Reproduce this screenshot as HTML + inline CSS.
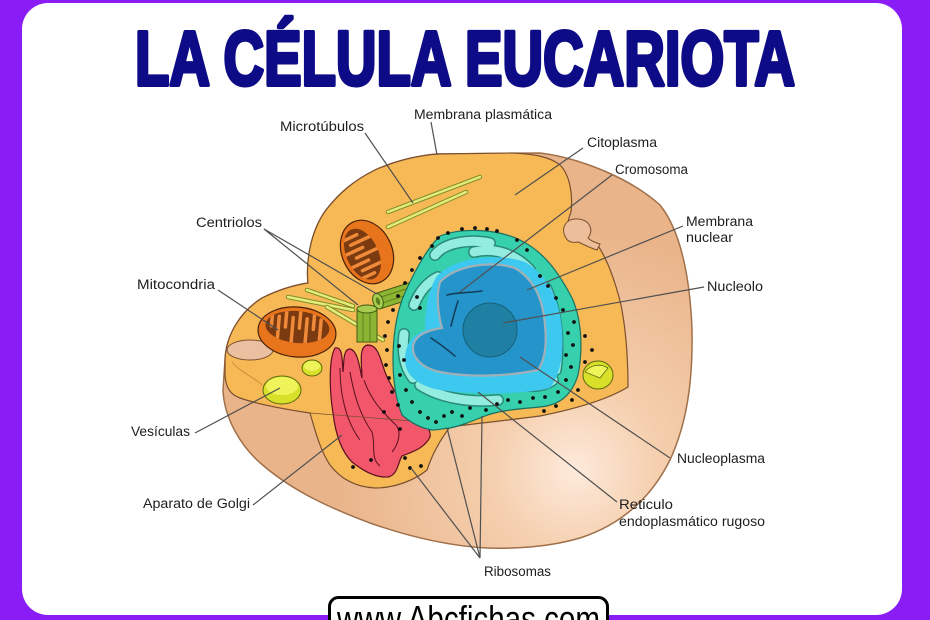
<!DOCTYPE html>
<html><head><meta charset="utf-8"><style>
html,body{margin:0;padding:0;background:#8a1cf6;}
body{width:930px;height:620px;overflow:hidden;}
svg{display:block;}
.lb{font-family:"Liberation Sans",sans-serif;font-size:13.5px;fill:#1e1e1e;}
.ln{stroke:#505050;stroke-width:1.2;fill:none;}
.mt1{stroke:#7f8f2a;stroke-width:4.5;stroke-linecap:round;}
.mt2{stroke:#e6ec7a;stroke-width:2.5;stroke-linecap:round;}
.cis1{stroke:#2a8a78;stroke-width:12;fill:none;stroke-linecap:round;}
.cis2{stroke:#92ece0;stroke-width:9;fill:none;stroke-linecap:round;}
</style></head><body>
<svg width="930" height="620" viewBox="0 0 930 620" xmlns="http://www.w3.org/2000/svg">
<defs>
<radialGradient id="pg" cx="575" cy="470" r="240" gradientUnits="userSpaceOnUse">
<stop offset="0" stop-color="#fdeadb"/><stop offset="0.35" stop-color="#f5cfae"/><stop offset="1" stop-color="#e9b48a"/>
</radialGradient>
<clipPath id="m1"><ellipse cx="-5" cy="0" rx="16" ry="27"/></clipPath>
<clipPath id="m2"><ellipse cx="0" cy="-5" rx="32" ry="16"/></clipPath>
</defs>
<rect x="0" y="0" width="930" height="620" fill="#8a1cf6"/>
<rect x="22" y="3" width="880" height="612" rx="26" fill="#ffffff"/>

<text x="135" y="85" font-family="Liberation Sans, sans-serif" font-weight="bold" font-size="77" fill="#0d0b86" stroke="#0d0b86" stroke-width="4" stroke-linejoin="round" textLength="660" lengthAdjust="spacingAndGlyphs">LA CÉLULA EUCARIOTA</text>

<!-- outer cell body -->
<path d="M225,360 C226,335 240,312 262,298 C278,290 295,285 308,283 C306,262 310,232 326,210 C340,192 355,180 375,170 C395,161 415,156 437,154 L540,153 C580,158 630,178 660,205 C680,230 690,275 692,330 C693,385 686,425 670,460 C650,500 620,525 580,538 C550,547 515,549 487,548 C450,546 410,537 370,523 C330,508 295,492 265,467 C240,447 224,417 223,390 Z" fill="url(#pg)" stroke="#a0704a" stroke-width="1.5"/>

<!-- cytoplasm -->
<path d="M225,360 C226,335 240,312 262,298 C278,290 295,285 308,283 C306,262 310,232 326,210 C340,192 355,180 375,170 C395,161 415,156 437,154 L513,153 C535,154 550,157 560,165 C570,175 573,195 571,212 C566,224 566,236 576,241 C583,244 589,239 596,243 C606,256 615,280 621,305 C626,330 628,360 628,387 C610,398 580,408 540,416 C510,420 480,423 450,427 C440,440 432,455 427,470 C415,480 395,488 375,488 C355,487 340,478 330,465 C320,450 315,430 310,413 C290,410 260,405 240,398 C232,395 226,390 225,375 Z" fill="#f7b955" stroke="#7a5030" stroke-width="1.2"/>

<!-- invagination top right -->
<path d="M566,238 C560,228 566,218 578,219 C590,220 594,230 588,238 C592,242 597,243 600,244 L597,250 C590,248 583,244 578,242 C573,243 568,242 566,238 Z" fill="#edbe9a" stroke="#7a5030" stroke-width="1"/>
<!-- left lobe pit -->
<ellipse cx="250" cy="350" rx="23" ry="10" fill="#ebc0a0" stroke="#7a5030" stroke-width="1"/>
<path d="M232,362 C240,372 255,378 262,385" stroke="#c8903a" stroke-width="1" fill="none"/>

<!-- microtubules -->
<line class="mt1" x1="388" y1="212" x2="480" y2="177"/><line class="mt2" x1="388" y1="212" x2="480" y2="177"/>
<line class="mt1" x1="388" y1="227" x2="466" y2="192"/><line class="mt2" x1="388" y1="227" x2="466" y2="192"/>
<line class="mt1" x1="288" y1="297" x2="353" y2="310"/><line class="mt2" x1="288" y1="297" x2="353" y2="310"/>
<line class="mt1" x1="307" y1="290" x2="353" y2="306"/><line class="mt2" x1="307" y1="290" x2="353" y2="306"/>
<line class="mt1" x1="327" y1="307" x2="383" y2="340"/><line class="mt2" x1="327" y1="307" x2="383" y2="340"/>

<!-- mitochondria upper -->
<g transform="translate(367,252) rotate(-25)">
<ellipse cx="0" cy="0" rx="25" ry="33" fill="#e8741c" stroke="#4a2208" stroke-width="1.2"/>
<ellipse cx="-5" cy="0" rx="16" ry="27" fill="#7b3a10"/>
<g clip-path="url(#m1)" stroke="#ee8a3a" stroke-width="3.5" stroke-linecap="round">
<line x1="-22" y1="-20" x2="-2" y2="-20"/><line x1="-12" y1="-13" x2="12" y2="-13"/>
<line x1="-22" y1="-6" x2="-2" y2="-6"/><line x1="-12" y1="1" x2="12" y2="1"/>
<line x1="-22" y1="8" x2="-2" y2="8"/><line x1="-12" y1="15" x2="12" y2="15"/>
<line x1="-22" y1="22" x2="-2" y2="22"/>
</g>
</g>
<!-- mitochondria lower -->
<g transform="translate(297,332) rotate(5)">
<ellipse cx="0" cy="0" rx="39" ry="25" fill="#e8741c" stroke="#4a2208" stroke-width="1.2"/>
<ellipse cx="0" cy="-5" rx="32" ry="16" fill="#7b3a10"/>
<g clip-path="url(#m2)" stroke="#ee8a3a" stroke-width="3.5" stroke-linecap="round">
<line x1="-26" y1="-22" x2="-26" y2="-4"/><line x1="-19" y1="-14" x2="-19" y2="12"/>
<line x1="-12" y1="-22" x2="-12" y2="-4"/><line x1="-5" y1="-14" x2="-5" y2="12"/>
<line x1="2" y1="-22" x2="2" y2="-4"/><line x1="9" y1="-14" x2="9" y2="12"/>
<line x1="16" y1="-22" x2="16" y2="-4"/><line x1="23" y1="-14" x2="23" y2="12"/>
</g>
</g>

<!-- centrioles -->
<g transform="translate(397,295) rotate(-18)">
<rect x="-20" y="-8" width="40" height="16" fill="#8db534" stroke="#3e5a10" stroke-width="1"/>
<line x1="-18" y1="-3" x2="20" y2="-3" stroke="#5c7f1c"/><line x1="-18" y1="3" x2="20" y2="3" stroke="#5c7f1c"/>
<ellipse cx="-20" cy="0" rx="5" ry="8" fill="#a8cc50" stroke="#3e5a10"/>
<ellipse cx="-20" cy="0" rx="2" ry="4" fill="#5c7f1c"/>
</g>
<g transform="translate(367,325)">
<rect x="-10" y="-16" width="20" height="33" fill="#8db534" stroke="#3e5a10" stroke-width="1"/>
<line x1="-4" y1="-14" x2="-4" y2="17" stroke="#5c7f1c"/><line x1="3" y1="-14" x2="3" y2="17" stroke="#5c7f1c"/>
<ellipse cx="0" cy="-16" rx="10" ry="4" fill="#a8cc50" stroke="#3e5a10"/>
</g>

<!-- vesicles -->
<ellipse cx="282" cy="390" rx="19" ry="14" fill="#d8e02a" stroke="#5a6a10" stroke-width="1"/>
<ellipse cx="282" cy="386" rx="16" ry="9" fill="#eef45a"/>
<ellipse cx="312" cy="368" rx="10" ry="8" fill="#d8e02a" stroke="#5a6a10" stroke-width="1"/>
<ellipse cx="312" cy="366" rx="8" ry="5" fill="#eef45a"/>
<ellipse cx="598" cy="375" rx="15" ry="14" fill="#d8e02a" stroke="#5a6a10" stroke-width="1"/>
<path d="M585,372 C590,365 600,363 608,368 L600,378 Z" fill="#eef45a" stroke="#5a6a10" stroke-width="0.8"/>

<!-- golgi -->
<path d="M335,348 C328,360 330,395 333,413 C335,430 340,450 352,462 C362,470 375,478 388,477 C398,475 398,462 402,456 C412,452 425,448 430,437 C432,428 420,418 410,410 C398,398 390,385 385,372 C380,358 378,345 368,345 C358,346 362,365 362,378 C360,370 358,350 350,349 C343,349 344,362 343,372 C342,360 343,346 335,348 Z" fill="#f2566b" stroke="#5a1020" stroke-width="1.2"/>
<path d="M340,368 C340,392 345,420 360,440 M350,372 C354,395 360,415 372,432 C376,446 370,458 380,466 M364,380 C370,398 380,410 396,425 C402,432 398,445 392,452" stroke="#5a1020" stroke-width="1" fill="none"/>
<line x1="310" y1="413" x2="450" y2="424" stroke="#7a5030" stroke-width="0.8"/>

<!-- ER teal -->
<path d="M440,236 C460,228 495,228 520,240 C545,252 560,275 572,298 C582,320 583,350 578,375 C572,395 560,405 540,407 C520,409 500,410 485,416 C470,422 460,426 450,428 C445,428 440,430 432,430 C420,428 410,422 402,415 C396,400 393,380 393,360 C393,340 395,320 402,300 C410,280 425,250 440,236 Z" fill="#36d0ad" stroke="#1c6f60" stroke-width="1.2"/>
<!-- cisternae -->
<g>
<path class="cis1" d="M435,255 C445,242 470,239 490,243"/>
<path class="cis1" d="M474,252 C494,247 515,254 530,270"/>
<path class="cis1" d="M546,288 C556,308 560,340 556,370"/>
<path class="cis1" d="M520,384 C532,388 545,386 553,380"/>
<path class="cis1" d="M420,385 C440,398 470,403 498,400"/>
<path class="cis1" d="M404,334 C402,352 404,366 413,378"/>
<path class="cis1" d="M414,305 C420,290 428,282 438,277"/>
<path class="cis2" d="M435,255 C445,242 470,239 490,243"/>
<path class="cis2" d="M474,252 C494,247 515,254 530,270"/>
<path class="cis2" d="M546,288 C556,308 560,340 556,370"/>
<path class="cis2" d="M520,384 C532,388 545,386 553,380"/>
<path class="cis2" d="M420,385 C440,398 470,403 498,400"/>
<path class="cis2" d="M404,334 C402,352 404,366 413,378"/>
<path class="cis2" d="M414,305 C420,290 428,282 438,277"/>
</g>
<!-- nucleus -->
<path d="M437,276 C455,258 495,252 525,262 C548,275 560,300 562,330 C564,355 560,375 550,388 C520,395 470,395 440,390 C418,386 405,375 405,360 C405,345 412,335 425,330 C425,310 428,290 437,276 Z" fill="#3dc8f0"/>
<path d="M440,282 C455,266 490,260 515,268 C535,280 543,300 545,325 C547,345 545,360 538,370 C510,376 470,378 440,372 C422,368 412,358 413,346 C415,335 428,330 442,328 C438,315 436,295 440,282 Z" fill="#2594cb" stroke="#9fb0b8" stroke-width="2.2"/>
<circle cx="490" cy="330" r="27" fill="#1f80a3" stroke="#17607a" stroke-width="1"/>
<g stroke="#12405a" stroke-width="1.6" stroke-linecap="round">
<path d="M447,295 C458,292 470,293 482,291"/>
<path d="M458,301 C455,310 453,318 451,326"/>
<path d="M431,338 C440,344 448,350 455,356"/>
</g>

<!-- ribosome dots -->
<g fill="#111">
<circle cx="432" cy="246" r="1.9"/><circle cx="438" cy="238" r="1.9"/><circle cx="448" cy="233" r="1.9"/><circle cx="462" cy="229" r="1.9"/><circle cx="475" cy="228" r="1.9"/><circle cx="487" cy="229" r="1.9"/><circle cx="497" cy="231" r="1.9"/><circle cx="517" cy="240" r="1.9"/><circle cx="527" cy="250" r="1.9"/><circle cx="420" cy="258" r="1.9"/>
<circle cx="412" cy="270" r="1.9"/><circle cx="405" cy="283" r="1.9"/><circle cx="398" cy="296" r="1.9"/><circle cx="393" cy="310" r="1.9"/><circle cx="388" cy="322" r="1.9"/><circle cx="385" cy="336" r="1.9"/><circle cx="387" cy="350" r="1.9"/><circle cx="386" cy="365" r="1.9"/><circle cx="389" cy="378" r="1.9"/><circle cx="392" cy="392" r="1.9"/><circle cx="398" cy="405" r="1.9"/>
<circle cx="417" cy="297" r="1.9"/><circle cx="420" cy="308" r="1.9"/>
<circle cx="399" cy="346" r="1.9"/><circle cx="404" cy="360" r="1.9"/><circle cx="400" cy="375" r="1.9"/><circle cx="406" cy="390" r="1.9"/><circle cx="412" cy="402" r="1.9"/><circle cx="420" cy="412" r="1.9"/><circle cx="428" cy="418" r="1.9"/><circle cx="436" cy="422" r="1.9"/><circle cx="444" cy="416" r="1.9"/><circle cx="452" cy="412" r="1.9"/><circle cx="462" cy="416" r="1.9"/><circle cx="470" cy="408" r="1.9"/><circle cx="486" cy="410" r="1.9"/><circle cx="497" cy="404" r="1.9"/><circle cx="508" cy="400" r="1.9"/><circle cx="520" cy="402" r="1.9"/><circle cx="533" cy="398" r="1.9"/><circle cx="545" cy="397" r="1.9"/><circle cx="558" cy="392" r="1.9"/><circle cx="566" cy="380" r="1.9"/><circle cx="571" cy="367" r="1.9"/><circle cx="566" cy="355" r="1.9"/><circle cx="573" cy="345" r="1.9"/><circle cx="568" cy="333" r="1.9"/><circle cx="574" cy="322" r="1.9"/><circle cx="563" cy="310" r="1.9"/><circle cx="556" cy="298" r="1.9"/><circle cx="548" cy="286" r="1.9"/><circle cx="540" cy="276" r="1.9"/>
<circle cx="585" cy="336" r="1.9"/><circle cx="592" cy="350" r="1.9"/><circle cx="585" cy="362" r="1.9"/><circle cx="578" cy="390" r="1.9"/><circle cx="572" cy="400" r="1.9"/><circle cx="556" cy="406" r="1.9"/><circle cx="544" cy="411" r="1.9"/>
<circle cx="353" cy="467" r="1.9"/><circle cx="405" cy="458" r="1.9"/><circle cx="410" cy="468" r="1.9"/><circle cx="421" cy="466" r="1.9"/><circle cx="384" cy="412" r="1.9"/><circle cx="400" cy="429" r="1.9"/><circle cx="371" cy="460" r="1.9"/>
</g>

<!-- leader lines -->
<g class="ln">
<line x1="431" y1="122" x2="437" y2="155"/>
<line x1="365" y1="133" x2="413" y2="203"/>
<line x1="583" y1="148" x2="515" y2="195"/>
<line x1="612" y1="175" x2="460" y2="292"/>
<line x1="683" y1="226" x2="527" y2="290"/>
<line x1="704" y1="287" x2="503" y2="323"/>
<line x1="264" y1="229" x2="377" y2="294"/>
<line x1="264" y1="229" x2="358" y2="305"/>
<line x1="218" y1="290" x2="278" y2="330"/>
<line x1="195" y1="433" x2="280" y2="388"/>
<line x1="253" y1="505" x2="342" y2="435"/>
<line x1="670" y1="458" x2="520" y2="357"/>
<line x1="617" y1="502" x2="478" y2="392"/>
<line x1="480" y1="558" x2="447" y2="428"/>
<line x1="480" y1="558" x2="482" y2="416"/>
<line x1="480" y1="558" x2="411" y2="468"/>
</g>

<!-- labels -->
<text class="lb" x="414" y="119" textLength="138" lengthAdjust="spacingAndGlyphs">Membrana plasmática</text>
<text class="lb" x="280" y="131" textLength="84" lengthAdjust="spacingAndGlyphs">Microtúbulos</text>
<text class="lb" x="587" y="147" textLength="70" lengthAdjust="spacingAndGlyphs">Citoplasma</text>
<text class="lb" x="615" y="174" textLength="73" lengthAdjust="spacingAndGlyphs">Cromosoma</text>
<text class="lb" x="686" y="226" textLength="67" lengthAdjust="spacingAndGlyphs">Membrana</text>
<text class="lb" x="686" y="242" textLength="47" lengthAdjust="spacingAndGlyphs">nuclear</text>
<text class="lb" x="707" y="291" textLength="56" lengthAdjust="spacingAndGlyphs">Nucleolo</text>
<text class="lb" x="196" y="227" textLength="66" lengthAdjust="spacingAndGlyphs">Centriolos</text>
<text class="lb" x="137" y="289" textLength="78" lengthAdjust="spacingAndGlyphs">Mitocondria</text>
<text class="lb" x="131" y="436" textLength="59" lengthAdjust="spacingAndGlyphs">Vesículas</text>
<text class="lb" x="143" y="508" textLength="107" lengthAdjust="spacingAndGlyphs">Aparato de Golgi</text>
<text class="lb" x="677" y="463" textLength="88" lengthAdjust="spacingAndGlyphs">Nucleoplasma</text>
<text class="lb" x="619" y="509" textLength="54" lengthAdjust="spacingAndGlyphs">Reticulo</text>
<text class="lb" x="619" y="526" textLength="146" lengthAdjust="spacingAndGlyphs">endoplasmático rugoso</text>
<text class="lb" x="484" y="576" textLength="67" lengthAdjust="spacingAndGlyphs">Ribosomas</text>

<!-- url box -->
<rect x="329.5" y="597.5" width="278" height="40" rx="9" fill="#ffffff" stroke="#000" stroke-width="3"/>
<text x="337" y="631" font-family="Liberation Sans, sans-serif" font-size="36" fill="#000" textLength="263" lengthAdjust="spacingAndGlyphs">www.Abcfichas.com</text>
</svg>
</body></html>
